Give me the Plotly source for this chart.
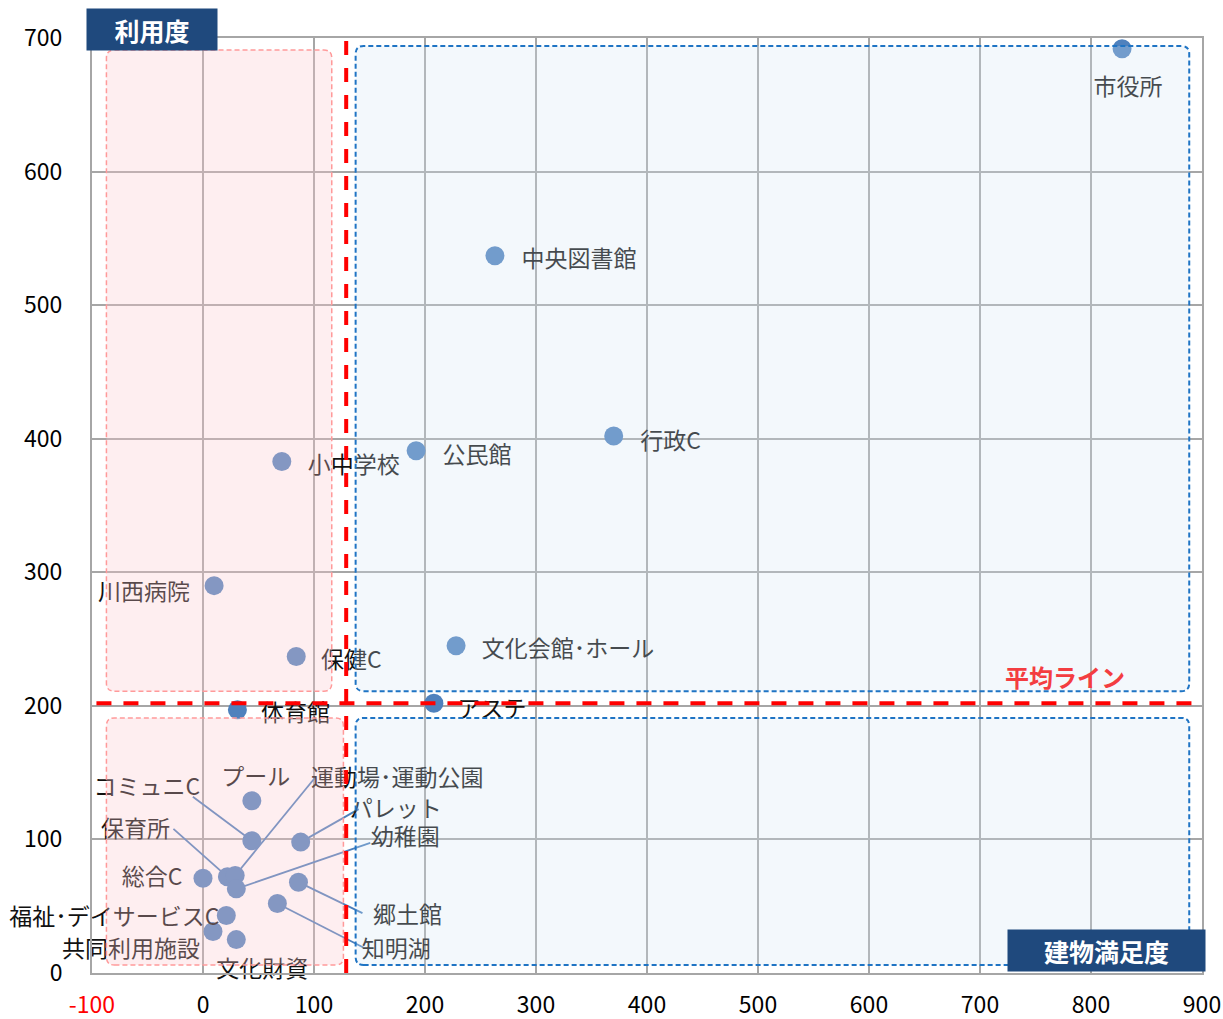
import plotly.graph_objects as go

# ---------------- data ----------------
names = ["市役所", "中央図書館", "行政C", "公民館", "小中学校", "川西病院",
         "文化会館･ホール", "保健C", "体育館", "アステ", "プール", "コミュニC",
         "保育所", "運動場･運動公園", "パレット", "幼稚園", "総合C", "郷土館",
         "知明湖", "福祉･デイサービスC", "共同利用施設", "文化財資"]
satisfaction = [828, 263, 370, 192, 71, 10, 228, 84, 31, 208, 44, 44,
                22, 29, 88, 30, 0, 86, 67, 21, 9, 30]
usage = [692, 537, 402, 391, 383, 290, 245, 237, 197, 202, 129, 99,
         72, 73, 98, 63, 71, 68, 52, 43, 31, 25]
avg_satisfaction = 129
avg_usage = 202
x_ticks = [-100, 0, 100, 200, 300, 400, 500, 600, 700, 800, 900]
y_ticks = [0, 100, 200, 300, 400, 500, 600, 700]

# ---------------- label layout (pixel offsets from point) ----------------
# name: (label dx, label dy, leader-line start dx, dy or None)
label_style = {
    "市役所": (6, 37, None),
    "中央図書館": (84, 2, None),
    "行政C": (57, 3, None),
    "公民館": (61, 3, None),
    "小中学校": (72, 2, None),
    "川西病院": (-70, 5, None),
    "文化会館･ホール": (112, 1, None),
    "保健C": (55, 2, None),
    "体育館": (58, 1, None),
    "アステ": (58, 4, None),
    "プール": (4, -25, None),
    "コミュニC": (-105, -56, (-59, -44)),
    "保育所": (-92, -50, (-54, -48)),
    "運動場･運動公園": (162, -99, (80, -98)),
    "パレット": (95, -35, (58, -33)),
    "幼稚園": (169, -54, (134, -46)),
    "総合C": (-51, -3, None),
    "郷土館": (109, 31, (64, 31)),
    "知明湖": (119, 44, (86, 44)),
    "福祉･デイサービスC": (-112, 0, None),
    "共同利用施設": (-82, 16, None),
    "文化財資": (26, 28, None),
}
TEXT_SHIFT = 4  # font baseline compensation (px)

W, H = 1223, 1019
ML, MR, MT, MB = 92, 21, 38, 46
XR = (-100, 900)
YR = (0, 700)
PX_X = (W - ML - MR) / (XR[1] - XR[0])
PX_Y = (H - MT - MB) / (YR[1] - YR[0])

FONT = "Noto Sans CJK JP"

fig = go.Figure()

# leader lines
lx, ly = [], []
for n, xv, yv in zip(names, satisfaction, usage):
    st = label_style[n]
    if st[2] is not None:
        lx += [xv + st[2][0] / PX_X, xv, None]
        ly += [yv - st[2][1] / PX_Y, yv, None]
fig.add_trace(go.Scatter(x=lx, y=ly, mode="lines",
                         line=dict(color="#4a7ebb", width=1.8),
                         hoverinfo="skip", showlegend=False, cliponaxis=False))

# points
fig.add_trace(go.Scatter(x=satisfaction, y=usage, mode="markers",
                         marker=dict(size=19, color="#4f81bd", line=dict(width=0)),
                         text=names, showlegend=False, cliponaxis=False))

# labels
tx = [xv + label_style[n][0] / PX_X for n, xv in zip(names, satisfaction)]
ty = [yv - (label_style[n][1] + TEXT_SHIFT) / PX_Y for n, yv in zip(names, usage)]
fig.add_trace(go.Scatter(x=tx, y=ty, mode="text", text=names,
                         textposition="middle center",
                         textfont=dict(family=FONT, size=23, color="#111111"),
                         hoverinfo="skip", showlegend=False, cliponaxis=False))


def rounded(x0, x1, y0, y1, r=8):
    rx, ry = r / PX_X, r / PX_Y
    return (f"M {x0+rx},{y0} L {x1-rx},{y0} Q {x1},{y0} {x1},{y0+ry} "
            f"L {x1},{y1-ry} Q {x1},{y1} {x1-rx},{y1} L {x0+rx},{y1} "
            f"Q {x0},{y1} {x0},{y1-ry} L {x0},{y0+ry} Q {x0},{y0} {x0+rx},{y0} Z")


shapes = []
pink_fill = "rgba(253,200,205,0.31)"
blue_fill = "rgba(210,228,243,0.27)"
pink_line = dict(color="#ff9a9a", width=1.5, dash="5px,3px")
blue_line = dict(color="#1f74c4", width=2, dash="5px,3px")
for (x0, x1, y0, y1, fill, ln) in [
    (-87, 116, 211, 691, pink_fill, pink_line),
    (-87, 126.5, 6, 191, pink_fill, pink_line),
    (137.5, 888.5, 211, 694, blue_fill, blue_line),
    (137.5, 888.5, 6, 191, blue_fill, blue_line),
]:
    shapes.append(dict(type="path", path=rounded(x0, x1, y0, y1), xref="x", yref="y",
                       fillcolor=fill, line=ln, layer="above"))

# average lines
shapes.append(dict(type="line", xref="x", yref="y", x0=avg_satisfaction, x1=avg_satisfaction,
                   y0=YR[0], y1=YR[1], line=dict(color="#ff0000", width=4, dash="14px,13px"),
                   layer="above"))
shapes.append(dict(type="line", xref="x", yref="y", x0=-96, x1=896,
                   y0=avg_usage, y1=avg_usage, line=dict(color="#ff0000", width=4, dash="15px,12px"),
                   layer="above"))

annotations = [
    dict(text="<b>利用度</b>", xref="paper", yref="paper",
         x=(152 - ML) / (W - ML - MR), y=(H - MB - 29.5) / (H - MT - MB),
         xanchor="center", yanchor="middle", showarrow=False,
         width=130, height=41, bgcolor="#1f497d", borderpad=0,
         font=dict(family=FONT, size=25, color="white")),
    dict(text="<b>建物満足度</b>", xref="paper", yref="paper",
         x=(1106.5 - ML) / (W - ML - MR), y=(H - MB - 950.5) / (H - MT - MB),
         xanchor="center", yanchor="middle", showarrow=False,
         width=197, height=41, bgcolor="#1f497d", borderpad=0,
         font=dict(family=FONT, size=25, color="white")),
    dict(text="<b>平均ライン</b>", xref="paper", yref="paper",
         x=(1065 - ML) / (W - ML - MR), y=(H - MB - 677) / (H - MT - MB),
         xanchor="center", yanchor="middle", showarrow=False,
         font=dict(family=FONT, size=24, color="rgb(243,61,65)")),
]

x_text = [f"<span style='color:#ff0000'>{v}</span>" if v < 0 else str(v) for v in x_ticks]

fig.update_layout(
    width=W, height=H,
    margin=dict(l=ML, r=MR, t=MT, b=MB, pad=0, autoexpand=False),
    paper_bgcolor="white", plot_bgcolor="white",
    font=dict(family=FONT, size=22, color="#000000"),
    shapes=shapes, annotations=annotations,
    xaxis=dict(range=list(XR), tickmode="array", tickvals=x_ticks, ticktext=x_text,
               showgrid=True, gridcolor="#a6a6a6", gridwidth=2, zeroline=False,
               showline=True, mirror=True, linecolor="#a6a6a6", linewidth=2,
               ticks="", ticklabelstandoff=10, automargin=False,
               tickfont=dict(family=FONT, size=23, color="#000000")),
    yaxis=dict(range=list(YR), tickmode="array", tickvals=y_ticks,
               showgrid=True, gridcolor="#a6a6a6", gridwidth=2, zeroline=False,
               showline=True, mirror=True, linecolor="#a6a6a6", linewidth=2,
               ticks="", ticklabelstandoff=23, automargin=False,
               tickfont=dict(family=FONT, size=23, color="#000000")),
    hovermode=False,
)

fig.write_html("out.html")
